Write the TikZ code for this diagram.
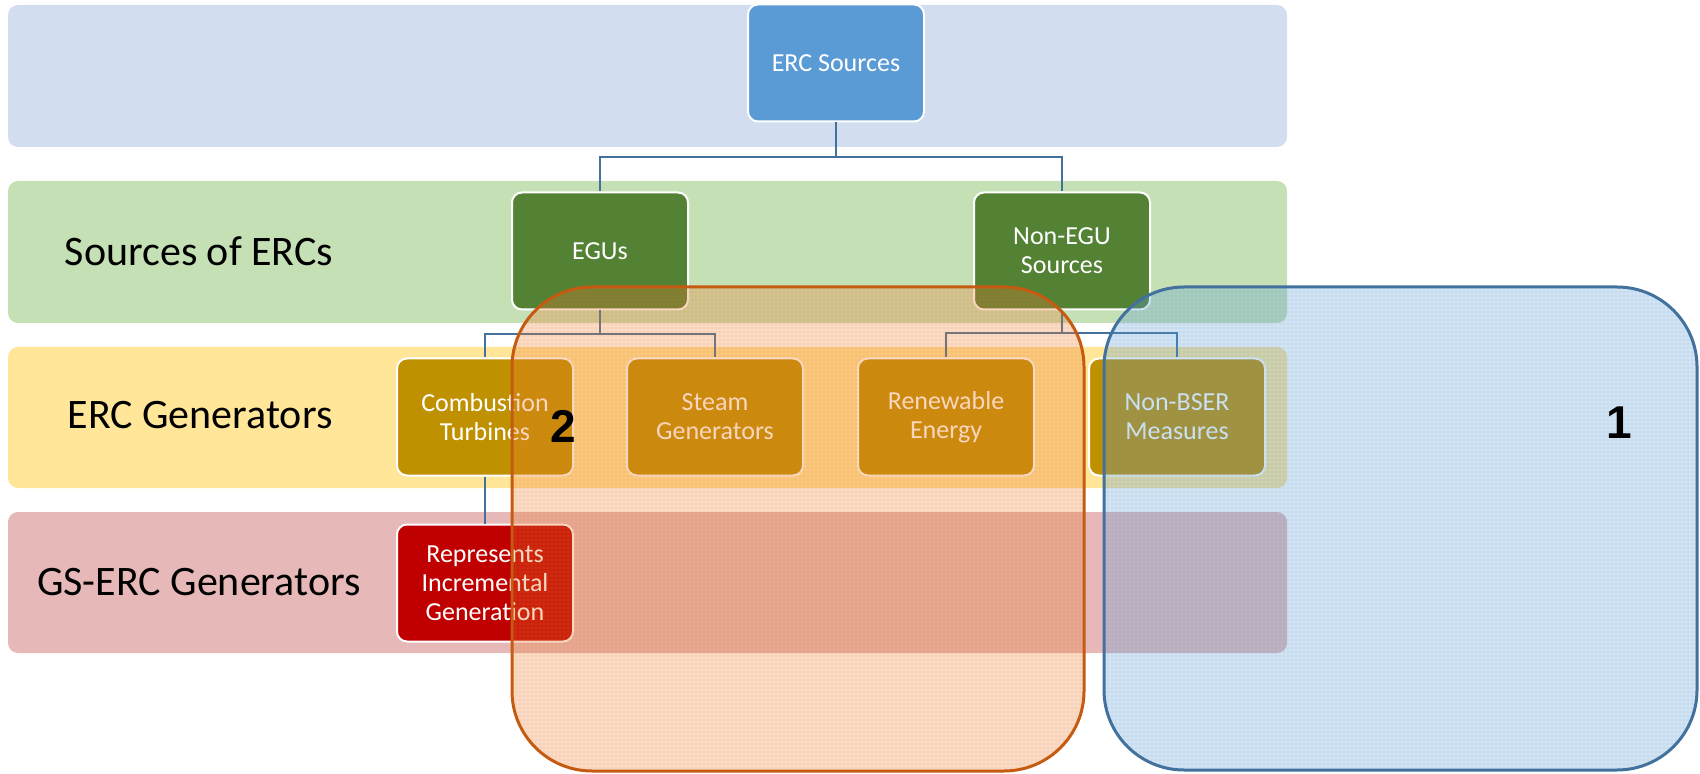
\documentclass[tikz,border=0pt]{standalone}
\usepackage{fontspec}
\setmainfont{Carlito}
\newfontfamily\numfont{Liberation Sans}
\usetikzlibrary{patterns.meta}

\definecolor{bandblue}{HTML}{D2DEEF}
\definecolor{bandgreen}{HTML}{C5E0B4}
\definecolor{bandyellow}{HTML}{FFE699}
\definecolor{bandred}{HTML}{E6B9B8}
\definecolor{boxblue}{HTML}{5B9BD5}
\definecolor{boxgreen}{HTML}{548235}
\definecolor{boxgold}{HTML}{BF9000}
\definecolor{boxred}{HTML}{C00000}
\definecolor{linkblue}{HTML}{41719C}
\definecolor{ovorange}{HTML}{C55A11}
\definecolor{ovorangefill}{HTML}{ED7D31}
\definecolor{ovblue}{HTML}{41719C}
\definecolor{ovbluefill}{HTML}{5B9BD5}

\begin{document}
\begin{tikzpicture}[x=0.5pt,y=-0.5pt,
  band/.style={fill=#1, draw=none, rounded corners=5pt},
  unit/.style={fill=#1, draw=white, line width=1pt, rounded corners=5pt,
    minimum width=88pt, minimum height=58.5pt, inner sep=2pt, text=white,
    font=\fontsize{13}{14.5}\selectfont, align=center},
  link/.style={draw=linkblue, line width=1pt},
  rowlabel/.style={font=\fontsize{21}{25}\selectfont, anchor=center, inner sep=0pt},
  overlay/.style={draw=#1, line width=1.5pt, rounded corners=40pt},
  meshfill/.style={fill=#1, fill opacity=0.26, draw=none, rounded corners=40pt},
  meshgrid/.style={pattern={Hatch[angle=0,distance=2pt,line width=0.45pt]},
    pattern color=#1, draw=none, rounded corners=40pt},
  tag/.style={font=\numfont\bfseries\fontsize{23}{27}\selectfont, inner sep=0pt}]
\useasboundingbox (0,0) rectangle (1700,774);

% level bands
\path[band=bandblue]   (8,5)   rectangle (1287,147);
\path[band=bandgreen]  (8,181) rectangle (1287,323);
\path[band=bandyellow] (8,347) rectangle (1287,488);
\path[band=bandred]    (8,512) rectangle (1287,653);

% band titles
\node[rowlabel] (lsrc) at (199,251) {Sources of ERCs};
\node[rowlabel] (lgen) at (200,415) {ERC Generators};
\node[rowlabel] (lgs)  at (199,582) {GS-ERC Generators};

% hierarchy boxes
\node[unit=boxblue]  (erc)     at (836,63)  {ERC Sources};
\node[unit=boxgreen] (egu)     at (600,251) {EGUs};
\node[unit=boxgreen] (nonegu)  at (1062,251) {Non-EGU\\Sources};
\node[unit=boxgold]  (comb)    at (485,417) {Combustion\\Turbines};
\node[unit=boxgold]  (steam)   at (715,417) {Steam\\Generators};
\node[unit=boxgold]  (renew)   at (946,417) {Renewable\\Energy};
\node[unit=boxgold]  (nonbser) at (1177,417) {Non-BSER\\Measures};
\node[unit=boxred]   (repr)    at (485,583) {Represents\\Incremental\\Generation};

% connectors
\draw[link] (erc.south) -- ++(0,35) coordinate (j1) -| (egu.north);
\draw[link] (j1) -| (nonegu.north);
\draw[link] (egu.south) -- ++(0,24) coordinate (j2) -| (comb.north);
\draw[link] (j2) -| (steam.north);
\draw[link] (nonegu.south) -- ++(0,23) coordinate (j3) -| (renew.north);
\draw[link] (j3) -| (nonbser.north);
\draw[link] (comb.south) -- (repr.north);

% highlighted groups: translucent tint, faint mesh, outline
\path[meshfill=ovorangefill] (512,287) rectangle (1084,771);
\begin{scope}[transparency group, opacity=0.2]
  \path[meshgrid=ovorangefill] (512,287) rectangle (1084,771);
\end{scope}
\path[overlay=ovorange] (512,287) rectangle (1084,771);

\path[meshfill=ovbluefill] (1104,287) rectangle (1697,770);
\begin{scope}[transparency group, opacity=0.2]
  \path[meshgrid=ovbluefill] (1104,287) rectangle (1697,770);
\end{scope}
\path[overlay=ovblue] (1104,287) rectangle (1697,770);

\node[tag] (t2) at (563,426) {2};
\node[tag] (t1) at (1619,423) {1};
\end{tikzpicture}
\end{document}
